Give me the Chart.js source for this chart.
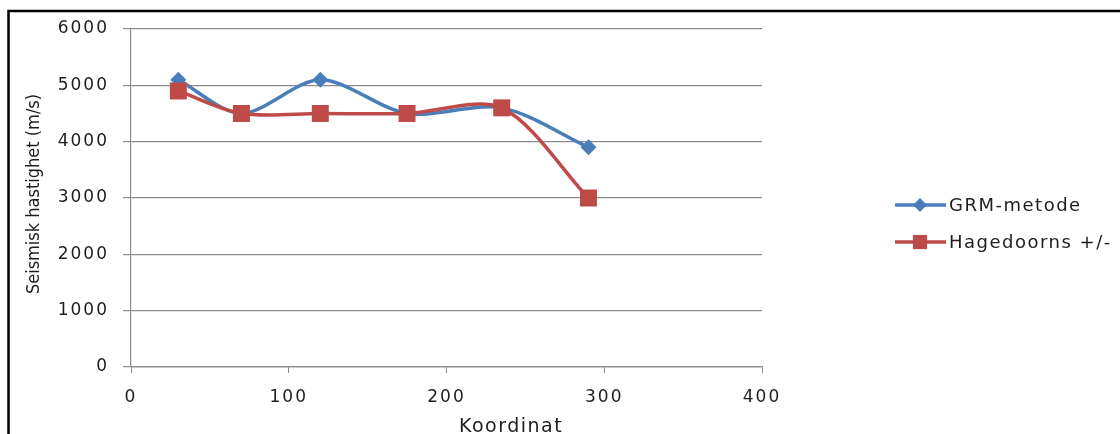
<!DOCTYPE html>
<html>
<head>
<meta charset="utf-8">
<script src="https://cdn.jsdelivr.net/npm/chart.js@4"></script>
<style>
  body { margin: 0; background: #fff; }
  canvas { display: block; }
</style>
</head>
<body>
<canvas id="chart" width="1120" height="434"></canvas>
<script>
// --- DATA ---
const koordinat = [30, 70, 120, 175, 235, 290];
const grmMetode = [5100, 4500, 5100, 4500, 4600, 3900];
const hagedoorns = [4900, 4500, 4500, 4500, 4600, 3000];
const seriesNames = ['GRM-metode', 'Hagedoorns +/-'];
const xTitle = 'Koordinat';
const yTitle = 'Seismisk hastighet (m/s)';

const BLUE = '#4A7EBB';
const RED = '#BE4B48';
const GRID = '#8c8c8c';
const TEXT = '#1e1e1e';
const TICK_FONT = 'DejaVu Sans';

const toPoints = (ys) => koordinat.map((x, i) => ({ x: x, y: ys[i] }));

// draws the frame, the titles and the legend on top of the chart
const extras = {
    id: 'extras',
    beforeDraw(chart) {
        chart.ctx.letterSpacing = '2px';
    },
    afterDraw(chart) {
        const ctx = chart.ctx;
        ctx.save();

        // outer frame (top + left only, rest is cropped)
        ctx.strokeStyle = '#000';
        ctx.lineWidth = 2.5;
        ctx.beginPath();
        ctx.moveTo(1120, 11);
        ctx.lineTo(8.5, 11);
        ctx.lineTo(8.5, 434);
        ctx.stroke();

        // x title
        ctx.fillStyle = TEXT;
        ctx.letterSpacing = '1.5px';
        ctx.font = '19px "DejaVu Sans"';
        ctx.textAlign = 'center';
        ctx.textBaseline = 'middle';
        ctx.fillText(xTitle, 511, 427);

        // y title
        ctx.save();
        ctx.letterSpacing = '0px';
        ctx.translate(34, 194);
        ctx.rotate(-Math.PI / 2);
        ctx.font = '18px "Liberation Sans Narrow", "DejaVu Sans Condensed", sans-serif';
        ctx.fillText(yTitle, 0, 0);
        ctx.restore();

        // legend
        const colors = [BLUE, RED];
        const styles = ['rectRot', 'rect'];
        const rows = [205, 242];
        ctx.letterSpacing = '1.5px';
        ctx.font = '18px "DejaVu Sans"';
        ctx.textAlign = 'left';
        seriesNames.forEach((name, i) => {
            const y = rows[i];
            ctx.strokeStyle = colors[i];
            ctx.lineWidth = 3.5;
            ctx.beginPath();
            ctx.moveTo(895, y);
            ctx.lineTo(946, y);
            ctx.stroke();
            ctx.fillStyle = colors[i];
            Chart.helpers.drawPoint(ctx, {
                pointStyle: styles[i],
                radius: i === 0 ? 7 : 10,
                borderWidth: 0
            }, 920, y);
            ctx.fillStyle = TEXT;
            ctx.fillText(name, 949, y + 1);
        });

        ctx.restore();
        ctx.letterSpacing = '0px';
    }
};

new Chart(document.getElementById('chart'), {
    type: 'scatter',
    data: {
        datasets: [
            {
                label: seriesNames[0],
                data: toPoints(grmMetode),
                showLine: true,
                borderColor: BLUE,
                backgroundColor: BLUE,
                borderWidth: 3.5,
                tension: 0.3,
                pointStyle: 'rectRot',
                pointRadius: 8,
                pointBorderWidth: 0,
                order: 1
            },
            {
                label: seriesNames[1],
                data: toPoints(hagedoorns),
                showLine: true,
                borderColor: RED,
                backgroundColor: RED,
                borderWidth: 3.5,
                tension: 0.3,
                pointStyle: 'rect',
                pointRadius: 12,
                pointBorderWidth: 0,
                order: 0
            }
        ]
    },
    options: {
        responsive: false,
        animation: false,
        devicePixelRatio: 1,
        layout: { padding: { left: 0, top: 29, right: 358, bottom: 0 } },
        plugins: {
            legend: { display: false },
            tooltip: { enabled: false }
        },
        scales: {
            x: {
                type: 'linear',
                min: 0,
                max: 400,
                afterFit: (scale) => { scale.height = 67; },
                ticks: {
                    stepSize: 100,
                    color: TEXT,
                    padding: 14,
                    maxRotation: 0,
                    callback: (v) => String(v),
                    font: { family: TICK_FONT, size: 17 }
                },
                grid: {
                    drawOnChartArea: false,
                    drawTicks: true,
                    tickLength: 6,
                    color: GRID
                },
                border: { color: GRID, width: 1.2 }
            },
            y: {
                min: 0,
                max: 6000,
                afterFit: (scale) => { scale.width = 131; },
                ticks: {
                    stepSize: 1000,
                    color: TEXT,
                    padding: 14,
                    callback: (v) => String(v),
                    font: { family: TICK_FONT, size: 17 }
                },
                grid: {
                    color: GRID,
                    lineWidth: 1.2,
                    tickLength: 8
                },
                border: { color: GRID, width: 1.2 }
            }
        }
    },
    plugins: [extras]
});
</script>
</body>
</html>
